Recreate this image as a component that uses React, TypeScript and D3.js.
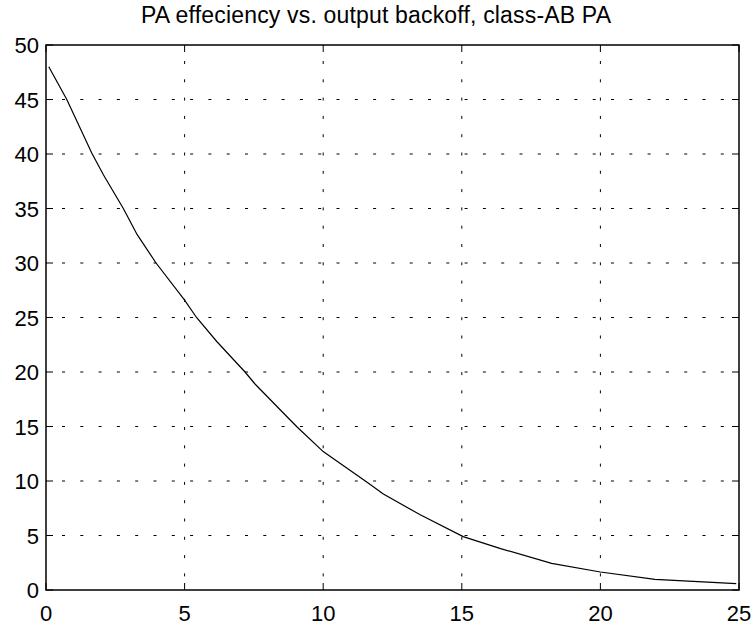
import React from 'react'
import * as d3 from 'd3'

// backoff (dB) and efficiency (%)
const backoff = [0.1, 0.75, 1.65, 2.07, 2.79, 3.29, 3.97, 5.0, 5.43, 6.16, 7.18, 7.54, 8.5, 9.04, 10.0, 11.57, 12.17, 13.5, 15.05, 16.4, 18.24, 20.0, 21.97, 24.9]
const efficiency = [48, 45, 40.1, 38.1, 35, 32.6, 30, 26.6, 25, 22.8, 20, 18.9, 16.4, 15.0, 12.7, 9.9, 8.8, 6.9, 4.9, 3.8, 2.45, 1.65, 0.98, 0.58]
const xTicks = [0, 5, 10, 15, 20, 25]
const yTicks = [0, 5, 10, 15, 20, 25, 30, 35, 40, 45, 50]
const title = 'PA effeciency vs. output backoff, class-AB PA'

const W = 755
const H = 625
const left = 46
const right = 739
const top = 45
const bottom = 590

export default function App() {
  const x = d3.scaleLinear().domain([0, 25]).range([left, right])
  const y = d3.scaleLinear().domain([0, 50]).range([bottom, top])
  const pts: [number, number][] = backoff.map((b, i) => [b, efficiency[i]])
  const line = d3.line<[number, number]>()
    .x(d => x(d[0]))
    .y(d => y(d[1]))
  const font = 'Liberation Sans, Arial, sans-serif'
  const tick = 7

  return (
    <svg width={W} height={H} style={{ position: 'absolute', left: 0, top: 0, background: '#fff' }}>
      <rect x={0} y={0} width={W} height={H} fill="#fff" />
      {/* grid */}
      {xTicks.slice(1, -1).map(t => (
        <line key={'gx' + t} x1={x(t)} x2={x(t)} y1={top} y2={bottom}
          stroke="#000" strokeWidth={1} strokeDasharray="3,15.3" strokeDashoffset={-16} />
      ))}
      {yTicks.slice(1, -1).map(t => (
        <line key={'gy' + t} x1={left} x2={right} y1={y(t)} y2={y(t)}
          stroke="#000" strokeWidth={1} strokeDasharray="3,15.3" strokeDashoffset={-16} />
      ))}
      {/* ticks */}
      {xTicks.map(t => (
        <g key={'tx' + t}>
          <line x1={x(t)} x2={x(t)} y1={bottom} y2={bottom - tick} stroke="#000" />
          <line x1={x(t)} x2={x(t)} y1={top} y2={top + tick} stroke="#000" />
        </g>
      ))}
      {yTicks.map(t => (
        <g key={'ty' + t}>
          <line x1={left} x2={left + tick} y1={y(t)} y2={y(t)} stroke="#000" />
          <line x1={right} x2={right - tick} y1={y(t)} y2={y(t)} stroke="#000" />
        </g>
      ))}
      <rect x={left} y={top} width={right - left} height={bottom - top}
        fill="none" stroke="#000" strokeWidth={1.5} />
      <path d={line(pts) || ''} fill="none" stroke="#000" strokeWidth={1.2} />
      {/* labels */}
      {xTicks.map(t => (
        <text key={'lx' + t} x={x(t)} y={bottom + 31} textAnchor="middle"
          fontFamily={font} fontSize={22} fill="#000">{t}</text>
      ))}
      {yTicks.map(t => (
        <text key={'ly' + t} x={left - 7} y={y(t) + 8} textAnchor="end"
          fontFamily={font} fontSize={22} fill="#000">{t}</text>
      ))}
      <text x={376} y={23} textAnchor="middle" fontFamily={font} fontSize={23}
        textLength={470} lengthAdjust="spacing" fill="#000">{title}</text>
    </svg>
  )
}
